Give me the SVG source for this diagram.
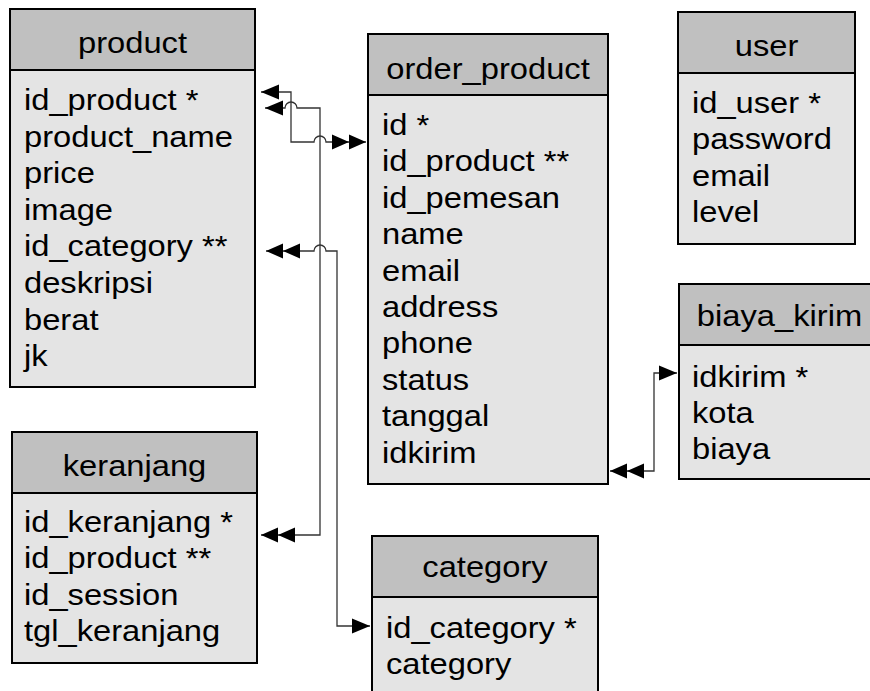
<svg xmlns="http://www.w3.org/2000/svg" width="870" height="691" viewBox="0 0 870 691">
<style>
.hd{fill:#c0c0c0;stroke:#000;stroke-width:2}
.bd{fill:#e4e4e4;stroke:#000;stroke-width:2}
.t{font-family:"Liberation Sans",Arial,sans-serif;font-size:30px;fill:#000}
.c{text-anchor:middle}
.ln{fill:none;stroke:#333;stroke-width:1.3}
</style>
<defs>
<marker id="one" markerUnits="userSpaceOnUse" orient="auto-start-reverse" overflow="visible" markerWidth="1" markerHeight="1"><path d="M0 0 L-18 -7.5 L-18 7.5 Z" fill="#000"/></marker>
<marker id="many" markerUnits="userSpaceOnUse" orient="auto-start-reverse" overflow="visible" markerWidth="1" markerHeight="1"><path d="M0 0 L-17 -7.5 L-17 7.5 Z M-17 0 L-34 -7.5 L-34 7.5 Z" fill="#000"/></marker>
</defs>
<rect width="870" height="691" fill="#fff"/>

<g id="product">
<rect class="bd" x="10" y="9" width="245" height="378"/>
<rect class="hd" x="10" y="9" width="245" height="61"/>
<text class="t c" transform="matrix(1.09 0 0 1 132.5 53)">product</text>
<text class="t" transform="matrix(1.09 0 0 1 24 110)"><tspan x="0" y="0">id_product *</tspan><tspan x="0" dy="36.6">product_name</tspan><tspan x="0" dy="36.6">price</tspan><tspan x="0" dy="36.6">image</tspan><tspan x="0" dy="36.6">id_category **</tspan><tspan x="0" dy="36.6">deskripsi</tspan><tspan x="0" dy="36.6">berat</tspan><tspan x="0" dy="36.6">jk</tspan></text>
</g>

<g id="order_product">
<rect class="bd" x="368" y="34" width="240" height="450"/>
<rect class="hd" x="368" y="34" width="240" height="61"/>
<text class="t c" transform="matrix(1.09 0 0 1 488 79)">order_product</text>
<text class="t" transform="matrix(1.09 0 0 1 382 135)"><tspan x="0" y="0">id *</tspan><tspan x="0" dy="36.4">id_product **</tspan><tspan x="0" dy="36.4">id_pemesan</tspan><tspan x="0" dy="36.4">name</tspan><tspan x="0" dy="36.4">email</tspan><tspan x="0" dy="36.4">address</tspan><tspan x="0" dy="36.4">phone</tspan><tspan x="0" dy="36.4">status</tspan><tspan x="0" dy="36.4">tanggal</tspan><tspan x="0" dy="36.4">idkirim</tspan></text>
</g>

<g id="user">
<rect class="bd" x="678" y="12" width="177" height="232"/>
<rect class="hd" x="678" y="12" width="177" height="61"/>
<text class="t c" transform="matrix(1.09 0 0 1 766.5 56)">user</text>
<text class="t" transform="matrix(1.09 0 0 1 692 113)"><tspan x="0" y="0">id_user *</tspan><tspan x="0" dy="36.5">password</tspan><tspan x="0" dy="36.5">email</tspan><tspan x="0" dy="36.5">level</tspan></text>
</g>

<g id="biaya_kirim">
<rect class="bd" x="679" y="284" width="194" height="195"/>
<rect class="hd" x="679" y="284" width="194" height="61"/>
<text class="t c" transform="matrix(1.09 0 0 1 779.5 326)">biaya_kirim</text>
<text class="t" transform="matrix(1.09 0 0 1 692 387)"><tspan x="0" y="0">idkirim *</tspan><tspan x="0" dy="36">kota</tspan><tspan x="0" dy="36">biaya</tspan></text>
</g>

<g id="keranjang">
<rect class="bd" x="12" y="432" width="245" height="231"/>
<rect class="hd" x="12" y="432" width="245" height="61"/>
<text class="t c" transform="matrix(1.09 0 0 1 134.5 476)">keranjang</text>
<text class="t" transform="matrix(1.09 0 0 1 24 532)"><tspan x="0" y="0">id_keranjang *</tspan><tspan x="0" dy="36.5">id_product **</tspan><tspan x="0" dy="36.5">id_session</tspan><tspan x="0" dy="36.5">tgl_keranjang</tspan></text>
</g>

<g id="category">
<rect class="bd" x="372" y="536" width="226" height="170"/>
<rect class="hd" x="372" y="536" width="226" height="61"/>
<text class="t c" transform="matrix(1.09 0 0 1 485 577)">category</text>
<text class="t" transform="matrix(1.09 0 0 1 386 638)"><tspan x="0" y="0">id_category *</tspan><tspan x="0" dy="36">category</tspan></text>
</g>

<g id="connectors">
<path class="ln" d="M261 92 H291 V142 H314 A6 6 0 0 1 326 142 H366" marker-start="url(#one)" marker-end="url(#many)"/>
<path class="ln" d="M265 108 H285 A6 6 0 0 1 297 108 H320 V535 H261" marker-start="url(#one)" marker-end="url(#many)"/>
<path class="ln" d="M266 251 H314 A6 6 0 0 1 326 251 H337 V626 H370" marker-start="url(#many)" marker-end="url(#one)"/>
<path class="ln" d="M610 471 H654 V373 H677" marker-start="url(#many)" marker-end="url(#one)"/>
</g>
</svg>
